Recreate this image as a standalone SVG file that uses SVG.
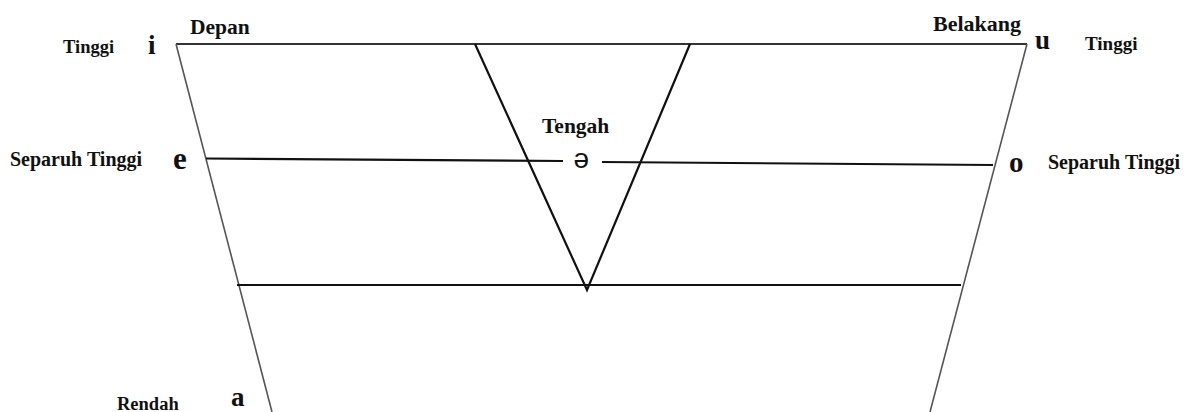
<svg xmlns="http://www.w3.org/2000/svg" width="1190" height="412" viewBox="0 0 1190 412">
<style>
.lbl{font-family:"Liberation Serif","Times New Roman",serif;font-weight:bold;fill:#111}
.frame{stroke:#555;stroke-width:1.6;fill:none}
.top{stroke:#333;stroke-width:1.8;fill:none}
.ln{stroke:#111;stroke-width:2.2;fill:none;stroke-linejoin:miter}
</style>
<rect width="1190" height="412" fill="#fff"/>
<g id="connectors">
<line class="top" x1="176" y1="44" x2="1027" y2="44"/>
<line class="frame" x1="176" y1="44" x2="272" y2="412"/>
<line class="frame" x1="1027" y1="44" x2="930" y2="412"/>
<polyline class="ln" points="475,44 587,290 690,44"/>
<line class="ln" x1="206" y1="158.5" x2="563" y2="161"/>
<line class="ln" x1="602" y1="162" x2="993" y2="165"/>
<line class="ln" x1="237" y1="285" x2="961" y2="285"/>
</g>
<g id="label-tinggi-left"><text class="lbl" x="63" y="53" font-size="18.5">Tinggi</text></g>
<g id="vowel-i"><text class="lbl" x="148" y="54" font-size="27">i</text></g>
<g id="label-depan"><text class="lbl" x="190" y="34" font-size="21.5">Depan</text></g>
<g id="label-belakang"><text class="lbl" x="933" y="31" font-size="22">Belakang</text></g>
<g id="vowel-u"><text class="lbl" x="1035" y="49" font-size="27">u</text></g>
<g id="label-tinggi-right"><text class="lbl" x="1085" y="50" font-size="19">Tinggi</text></g>
<g id="label-separuh-left"><text class="lbl" x="10" y="166" font-size="20">Separuh Tinggi</text></g>
<g id="vowel-e"><text class="lbl" x="173" y="169" font-size="31">e</text></g>
<g id="label-tengah"><text class="lbl" x="542" y="133" font-size="21.5">Tengah</text></g>
<g id="vowel-schwa"><text x="573.5" y="168" font-family="Liberation Sans, Arial, sans-serif" font-size="28" fill="#111">ə</text></g>
<g id="vowel-o"><text class="lbl" x="1009" y="172" font-size="29">o</text></g>
<g id="label-separuh-right"><text class="lbl" x="1048" y="169" font-size="20">Separuh Tinggi</text></g>
<g id="label-rendah"><text class="lbl" x="117" y="410" font-size="18.5">Rendah</text></g>
<g id="vowel-a"><text class="lbl" x="231" y="406" font-size="27">a</text></g>
</svg>
